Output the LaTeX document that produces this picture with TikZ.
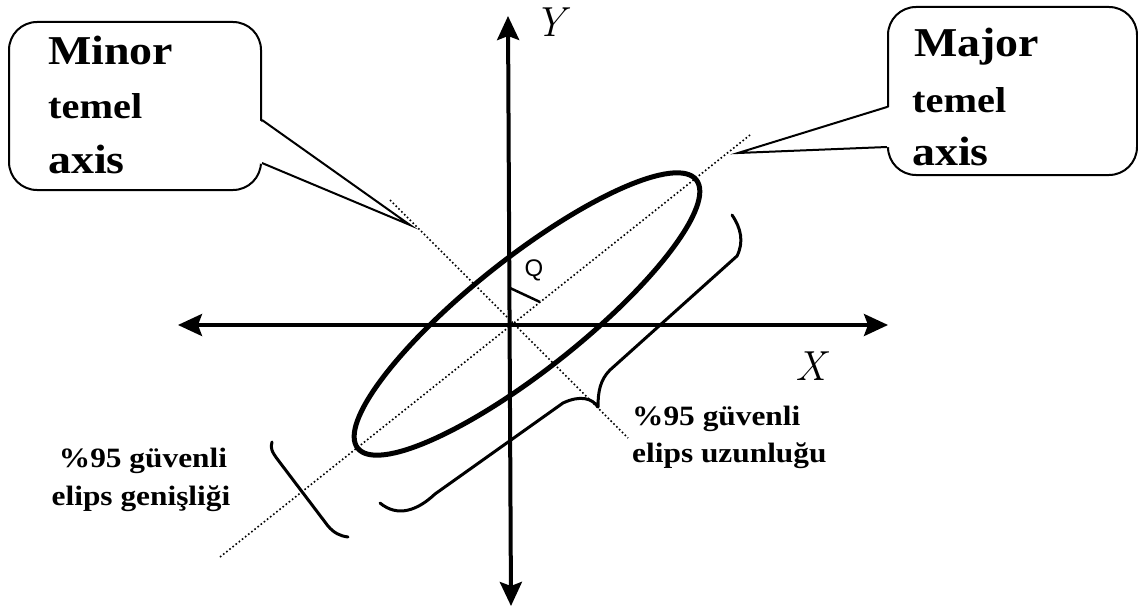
\documentclass[tikz,border=0pt]{standalone}
\usepackage{fontspec}
\usetikzlibrary{arrows.meta}
\newfontfamily\tnr[FakeStretch=1.12]{Liberation Serif}
\newfontfamily\qsans{Liberation Sans}
\tikzset{
  axisline/.style={line width=4pt, {Stealth[length=24pt,width=22pt,inset=4pt]}-{Stealth[length=24pt,width=22pt,inset=4pt]}},
  xaxisline/.style={line width=3.5pt, {Stealth[length=24pt,width=22pt,inset=4pt]}-{Stealth[length=24pt,width=22pt,inset=4pt]}},
  dotline/.style={line width=1.6pt, dash pattern=on 1.6pt off 2.4pt},
  elli/.style={line width=5pt},
  brace/.style={line width=3pt, line cap=round, line join=round},
  callout/.style={draw, line width=2pt, rounded corners=28pt, inner sep=0pt},
  pointer/.style={line width=2pt, line join=miter},
  boxtxt/.style={anchor=base west, inner sep=0pt, font=\tnr\bfseries\fontsize{41}{41}\selectfont},
  boxtxtsmall/.style={anchor=base west, inner sep=0pt, font=\tnr\bfseries\fontsize{36}{36}\selectfont},
  lowtxt/.style={inner sep=0pt, font=\tnr\bfseries\fontsize{28}{28}\selectfont},
  axlabel/.style={anchor=base, inner sep=0pt, font=\itshape\fontsize{42}{42}\selectfont},
}
\begin{document}
\begin{tikzpicture}[x=1pt,y=-1pt]
\useasboundingbox (0,0) rectangle (1138,610);
% coordinates
\coordinate (xl) at (178,325);
\coordinate (xr) at (888,325);
\coordinate (yt) at (508,16);
\coordinate (yb) at (511,606);
\coordinate (maj1) at (220,557);
\coordinate (maj2) at (750,135);
\coordinate (min1) at (390,200);
\coordinate (min2) at (628,438);
\coordinate (ec) at (527,314);
\coordinate (angA) at (510,288);
\coordinate (angB) at (540,302);
\coordinate (tipmin) at (410,225);
\coordinate (tipmaj) at (738,153);
% axes
\draw[xaxisline] (xl) -- (xr);
\draw[axisline] (yb) -- (yt);
% dotted principal axes
\draw[dotline] (maj1) -- (maj2);
\draw[dotline] (min1) -- (min2);
% ellipse
\draw[elli, rotate around={38.4:(ec)}] (ec) ellipse [x radius=216, y radius=56];
% angle marker
\draw[line width=2.5pt] (angA) -- (angB);
\node[inner sep=0pt, font=\qsans\fontsize{24}{24}\selectfont] (q) at (534,270) {Q};
% braces
\draw[brace] (732,215) .. controls (741,228) and (744,242) .. (737,256) -- (610,370)
  .. controls (600,380) and (598,392) .. (598,407)
  .. controls (592,398) and (580,395) .. (563,403) -- (435,494)
  .. controls (418,510) and (398,518) .. (380,503);
\draw[brace] (272,442) .. controls (270,448) and (272,452) .. (278,460) -- (328,526)
  .. controls (334,533) and (340,536) .. (348,537);
% minor callout
\node[callout, minimum width=252pt, minimum height=168pt] (minorbox) at (135,106) {};
\fill[white] (259,120) -- (tipmin) -- (259,163) -- cycle;
\draw[pointer] (minorbox.east |- 0,120) -- (tipmin) -- (minorbox.east |- 0,163);
\node[boxtxt] (mi1) at (48,65) {Minor};
\node[boxtxtsmall] (mi2) at (48,118) {temel};
\node[boxtxt] (mi3) at (48,173) {axis};
% major callout
\node[callout, minimum width=249pt, minimum height=168pt] (majorbox) at (1012.5,91) {};
\fill[white] (890,107) -- (tipmaj) -- (890,147) -- cycle;
\draw[pointer] (majorbox.west |- 0,107) -- (tipmaj) -- (majorbox.west |- 0,147);
\node[boxtxt] (ma1) at (914,57) {Major};
\node[boxtxtsmall] (ma2) at (912,112) {temel};
\node[boxtxt] (ma3) at (912,165) {axis};
% axis labels
\node[axlabel] (xlab) at (811,380) {X};
\node[axlabel] (ylab) at (550,37) {Y};
% lower texts
\node[lowtxt, anchor=base] (w1) at (143,467) {\%95 güvenli};
\node[lowtxt, anchor=base] (w2) at (141,505) {elips genişliği};
\node[lowtxt, anchor=base west] (l1) at (632,425) {\%95 güvenli};
\node[lowtxt, anchor=base west] (l2) at (632,462) {elips uzunluğu};
\end{tikzpicture}
\end{document}
